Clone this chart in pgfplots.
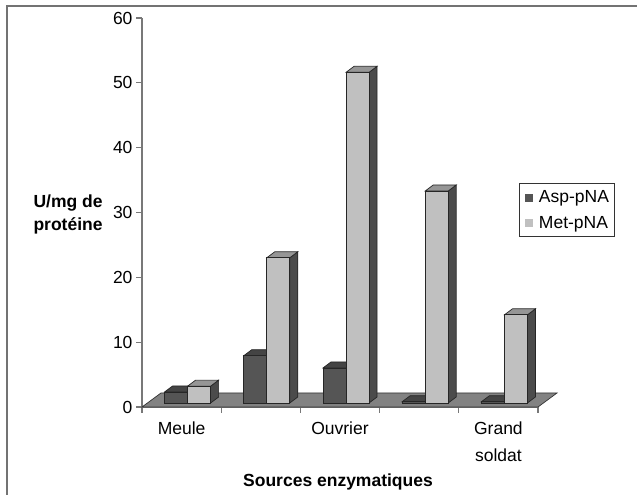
\documentclass[border=0pt]{standalone}
\usepackage{fontspec}
\setmainfont{Liberation Sans}
\usepackage{pgfplots}
\usepackage{pgfplotstable}
\pgfplotsset{compat=1.18}
\definecolor{aspfront}{RGB}{85,85,85}
\definecolor{asptop}{RGB}{68,68,68}
\definecolor{aspside}{RGB}{45,45,45}
\definecolor{metfront}{RGB}{192,192,192}
\definecolor{mettop}{RGB}{150,150,150}
\definecolor{metside}{RGB}{75,75,75}
\definecolor{floorgray}{RGB}{130,130,130}
\definecolor{axisgray}{RGB}{120,120,120}
\pgfplotstableread{
x asp met
1 1.7 2.6
2 7.3 22.4
3 5.4 51.0
4 0.2 32.7
5 0.2 13.6
}\datatab
\pgfdeclareplotmark{nothing}{}
% #1 left offset (bp) of front face, #2 front, #3 top, #4 side colour
\newcommand\cuboid[4]{%
  \pgfmathsetmacro\hh{\val*6.4833}%
  \filldraw[draw=black!85,line width=0.7bp,fill=#4] (#1bp+23bp,4bp) -- (#1bp+31bp,10bp) -- (#1bp+31bp,10bp-\hh bp) -- (#1bp+23bp,4bp-\hh bp) -- cycle;
  \filldraw[draw=black!85,line width=0.7bp,fill=#3] (#1bp,4bp) -- (#1bp+8bp,10bp) -- (#1bp+31bp,10bp) -- (#1bp+23bp,4bp) -- cycle;
  \filldraw[draw=black!85,line width=0.7bp,fill=#2] (#1bp,4bp) rectangle (#1bp+23bp,4bp-\hh bp);
}
\newcommand\bigfont{\fontsize{17.5bp}{23bp}\selectfont}
\begin{document}
\begin{tikzpicture}
\useasboundingbox (0,0) rectangle (637bp,495bp);
\draw[line width=2bp, black!55] (7bp,0) -- (7bp,489bp) -- (637bp,489bp);
\begin{axis}[
  at={(142bp,88bp)}, anchor=south west,
  scale only axis, width=396bp, height=389bp,
  xmin=0.5, xmax=5.5, ymin=0, ymax=60,
  clip=false,
  axis x line*=bottom, axis y line*=left,
  axis line style={draw=axisgray, line width=1.3bp},
  tick style={draw=axisgray, line width=1.3bp},
  tick align=outside, major tick length=6bp,
  ytick={0,10,...,60},
  xtick={0.5,1.5,...,5.5}, xticklabels={},
  extra x ticks={1,3,5},
  extra x tick labels={Meule,Ouvrier,{Grand\\[4bp]soldat}},
  extra x tick style={major tick length=0pt, xticklabel style={align=center, anchor=north, yshift=-11bp}},
  tick label style={font=\bigfont},
  /pgf/number format/assume math mode=true,
  legend style={at={(rel axis cs:0.951,0.575)}, anchor=north west, draw=black!80, line width=0.9bp, font=\bigfont, row sep=8bp, inner xsep=3bp, inner ysep=5bp},
  legend cell align=left,
]
\fill[floorgray, draw=black!80, line width=0.7bp] (axis cs:0.5,0) -- ++(19bp,14bp) -- ([xshift=19bp,yshift=14bp]axis cs:5.5,0) -- (axis cs:5.5,0) -- cycle;
\addlegendimage{legend image code/.code={\path (0bp,0bp) (14bp,0bp); \fill[aspfront] (3bp,-3.5bp) rectangle (10bp,3.5bp);}}
\addlegendentry{Asp-pNA}
\addlegendimage{legend image code/.code={\path (0bp,0bp) (14bp,0bp); \fill[metfront] (3bp,-3.5bp) rectangle (10bp,3.5bp);}}
\addlegendentry{Met-pNA}
\addplot[forget plot, scatter, only marks, mark=nothing,
  visualization depends on={\thisrow{asp} \as \val},
  scatter/@pre marker code/.code={\cuboid{-17}{aspfront}{asptop}{aspside}},
  scatter/@post marker code/.code={}] table[x=x, y=asp] {\datatab};
\addplot[forget plot, scatter, only marks, mark=nothing,
  visualization depends on={\thisrow{met} \as \val},
  scatter/@pre marker code/.code={\cuboid{6}{metfront}{mettop}{metside}},
  scatter/@post marker code/.code={}] table[x=x, y=met] {\datatab};
\end{axis}
\node[anchor=west, align=left, font=\bigfont\bfseries] at (30bp,281bp) {U/mg de\\protéine};
\node[font=\bigfont\bfseries] at (338bp,13bp) {Sources enzymatiques};
\end{tikzpicture}
\end{document}
